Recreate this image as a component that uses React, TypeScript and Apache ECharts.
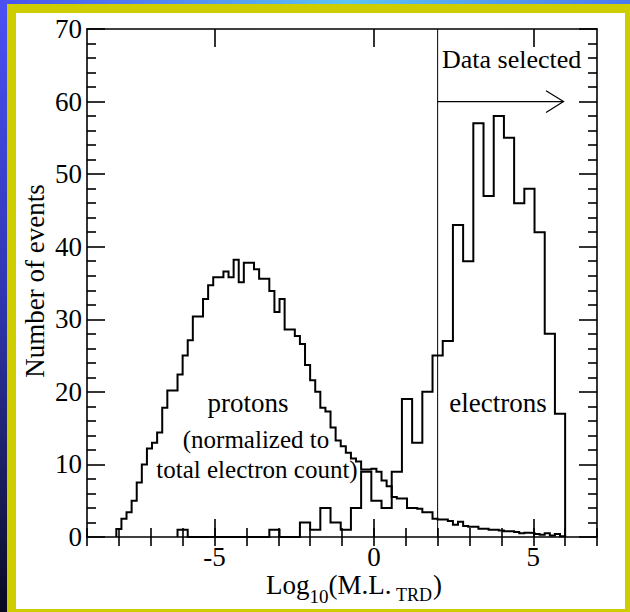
import React, { useEffect, useRef } from "react";
import * as echarts from "echarts";

// Proton distribution (normalized to the electron total), bins of 0.16 starting at -8.08
const PROTON_START = -8.08;
const PROTON_WIDTH = 0.16;
const protonCounts = [
  1.1, 2.5, 3.4, 5.0, 7.5, 10.0, 12.2, 13.0, 14.4, 17.8,
  20.2, 20.2, 22.4, 25.0, 27.1, 30.4, 30.4, 32.8, 34.7, 35.8,
  35.8, 36.6, 35.8, 38.2, 35.1, 37.8, 37.8, 36.9, 35.6, 35.6,
  33.9, 31.0, 32.8, 28.6, 28.6, 27.7, 26.6, 23.7, 21.6, 20.0,
  17.8, 17.3, 15.1, 13.3, 12.5, 11.6, 10.8, 10.4, 9.3, 9.3,
  9.4, 9.0, 7.8, 7.0, 5.5, 5.3, 5.3, 4.0, 4.0, 3.9,
  3.4, 3.4, 2.5, 2.4, 2.4, 2.2, 1.7, 2.1, 1.5, 1.4,
  1.4, 1.15, 1.15, 1.0, 1.0, 0.9, 0.8, 0.8, 0.7, 0.5,
  0.6, 0.55, 0.4, 0.3, 0.5, 0.2, 0.4, 0.1,
];

// Electron counts, bins of 0.32 starting at -6.16
const ELECTRON_START = -6.16;
const ELECTRON_WIDTH = 0.32;
const electronCounts = [
  1, 0, 0, 0, 0, 0, 0, 0, 0, 1,
  0, 0, 2, 1, 4, 2, 1, 4, 9, 5,
  4, 9, 19, 13, 20, 25, 27, 43, 38, 57,
  47, 58, 55, 46, 48, 42, 28, 17,
];

// Axis ranges and tick values
const X_MIN = -9;
const X_MAX = 7;
const X_MAJOR_TICKS = [-5, 0, 5];
const Y_MIN = 0;
const Y_MAX = 70;

// Selection cut and its arrow
const CUT_VALUE = 2;
const ARROW_Y = 60;
const ARROW_END = 5.95;
const ARROW_HEAD = [
  [5.4, 61.5],
  [ARROW_END, ARROW_Y],
  [5.4, 58.5],
];

const SERIF = "Liberation Serif, Times New Roman, serif";

function stepOutline(start: number, width: number, values: number[]) {
  const pts: number[][] = [[start, 0]];
  values.forEach((v, i) => {
    const x0 = start + i * width;
    pts.push([x0, v], [x0 + width, v]);
  });
  pts.push([start + values.length * width, 0]);
  return pts;
}

function label(
  text: string,
  x: number,
  baseline: number,
  size: number,
  align: string = "center",
  extra: Record<string, unknown> = {}
) {
  return {
    type: "text",
    x,
    y: baseline - 0.3375 * size,
    z: 100,
    silent: true,
    ...extra,
    style: {
      text,
      fontSize: size,
      fontFamily: SERIF,
      lineHeight: Math.round(size * 0.85),
      fill: "#000",
      align,
      textAlign: align,
      verticalAlign: "middle",
      textVerticalAlign: "middle",
    },
  };
}

const lineColor = "#000";

function majorXAxis(position: "top" | "bottom", showLabels: boolean) {
  return {
    type: "value",
    position,
    min: X_MIN,
    max: X_MAX,
    axisLine: { show: true, onZero: false, lineStyle: { color: lineColor, width: 1.6 } },
    axisTick: {
      show: true,
      inside: true,
      length: 18,
      customValues: X_MAJOR_TICKS,
      lineStyle: { color: lineColor, width: 1.6 },
    },
    axisLabel: {
      show: showLabels,
      customValues: X_MAJOR_TICKS,
      margin: 8.5,
      fontSize: 27,
      lineHeight: 22,
      fontFamily: SERIF,
      color: "#000",
    },
    splitLine: { show: false },
  };
}

function minorXAxis(position: "top" | "bottom") {
  return {
    type: "value",
    position,
    min: X_MIN,
    max: X_MAX,
    interval: 1,
    axisLine: { show: false },
    axisTick: { show: true, inside: true, length: 9, lineStyle: { color: lineColor, width: 1.6 } },
    axisLabel: { show: false },
    splitLine: { show: false },
  };
}

function yAxis(position: "left" | "right", showLabels: boolean) {
  return {
    type: "value",
    position,
    min: Y_MIN,
    max: Y_MAX,
    interval: 10,
    axisLine: { show: true, onZero: false, lineStyle: { color: lineColor, width: 1.6 } },
    axisTick: { show: true, inside: true, length: 18, lineStyle: { color: lineColor, width: 1.6 } },
    minorTick: { show: true, splitNumber: 5, length: 9, lineStyle: { color: lineColor, width: 1.6 } },
    axisLabel: {
      show: showLabels,
      margin: 5,
      fontSize: 27,
      lineHeight: 22,
      fontFamily: SERIF,
      color: "#000",
    },
    splitLine: { show: false },
    minorSplitLine: { show: false },
  };
}

function lineSeries(data: number[][], width: number) {
  return {
    type: "line",
    xAxisIndex: 0,
    yAxisIndex: 0,
    data,
    symbol: "none",
    silent: true,
    clip: false,
    lineStyle: { color: "#000", width, join: "miter" },
    z: 5,
  };
}

export default function App() {
  const ref = useRef<HTMLDivElement>(null);

  useEffect(() => {
    if (!ref.current) return;
    const chart = echarts.init(ref.current, null, { renderer: "svg" });

    const option = {
      animation: false,
      grid: { left: 87, top: 29, width: 510, height: 508, outerBoundsMode: "none" },
      xAxis: [majorXAxis("bottom", true), minorXAxis("bottom"), majorXAxis("top", false), minorXAxis("top")],
      yAxis: [yAxis("left", true), yAxis("right", false)],
      series: [
        lineSeries(stepOutline(PROTON_START, PROTON_WIDTH, protonCounts), 2),
        lineSeries(stepOutline(ELECTRON_START, ELECTRON_WIDTH, electronCounts), 2),
        lineSeries(
          [
            [CUT_VALUE, Y_MIN],
            [CUT_VALUE, Y_MAX],
          ],
          1
        ),
        lineSeries(
          [
            [CUT_VALUE, ARROW_Y],
            [ARROW_END, ARROW_Y],
          ],
          1.2
        ),
        lineSeries(ARROW_HEAD, 1.2),
      ],
      graphic: [
        {
          type: "group",
          z: -100,
          silent: true,
          children: [
            {
              type: "rect",
              shape: { x: 0, y: 0, width: 630, height: 612 },
              style: {
                fill: new echarts.graphic.LinearGradient(0, 0, 0, 1, [
                  { offset: 0, color: "#4b50f5" },
                  { offset: 0.5, color: "#2e36ae" },
                  { offset: 1, color: "#0a0a20" },
                ]),
              },
            },
            {
              type: "rect",
              shape: { x: 0, y: 0, width: 630, height: 4 },
              style: {
                fill: new echarts.graphic.LinearGradient(0, 0, 1, 0, [
                  { offset: 0, color: "#4a50f0" },
                  { offset: 0.55, color: "#5cc4f2" },
                  { offset: 1, color: "#4c78ee" },
                ]),
              },
            },
            {
              type: "rect",
              shape: { x: 7, y: 4, width: 623, height: 608 },
              style: { fill: "#cdcd00" },
            },
            {
              type: "rect",
              shape: { x: 16, y: 13, width: 609, height: 596 },
              style: { fill: "#ffffff" },
            },
          ],
        },
        label("protons", 248, 412, 27),
        label("(normalized to", 256, 448, 25),
        label("total electron count)", 257, 478, 25),
        label("electrons", 498, 412, 27),
        label("Data selected", 442, 68.5, 26, "left"),
        {
          type: "text",
          x: 35.3,
          y: 281,
          rotation: Math.PI / 2,
          z: 100,
          silent: true,
          style: {
            text: "Number of events",
            fontSize: 27,
            fontFamily: SERIF,
            fill: "#000",
            align: "center",
            textAlign: "center",
            verticalAlign: "middle",
            textVerticalAlign: "middle",
          },
        },
        label("Log", 266, 594, 27, "left"),
        label("10", 309.5, 602.5, 19, "left"),
        label("(M.L.", 328.5, 594, 27, "left"),
        label("TRD", 396, 601.5, 18, "left"),
        label(")", 433, 594, 27, "left"),
      ],
    };

    chart.setOption(option as any);
    return () => chart.dispose();
  }, []);

  return (
    <div
      ref={ref}
      style={{ position: "absolute", left: 0, top: 0, width: 630, height: 612 }}
    />
  );
}
